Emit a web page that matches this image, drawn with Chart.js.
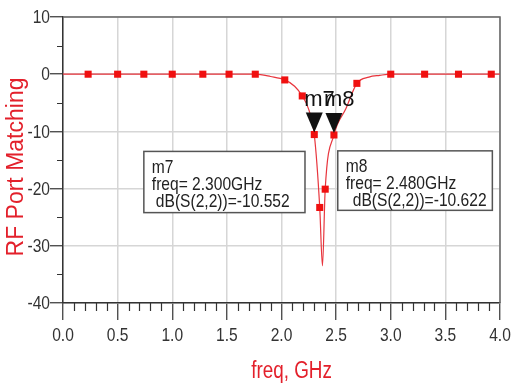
<!DOCTYPE html>
<html>
<head>
<meta charset="utf-8">
<script src="https://cdn.jsdelivr.net/npm/chart.js@4.4.1/dist/chart.umd.min.js"></script>
<style>
  html, body { margin: 0; padding: 0; background: #fff; }
  canvas { display: block; }
</style>
</head>
<body>
<canvas id="s22Chart" width="516" height="388"></canvas>
<script>
// dB(S(2,2)) trace, frequency in GHz
const lineFreq = [0.00, 0.23, 0.50, 0.74, 1.00, 1.28, 1.52, 1.76, 1.90, 2.03, 2.12, 2.19, 2.25, 2.30,
  2.35, 2.375, 2.40, 2.48, 2.59, 2.69, 2.80, 2.90, 3.00, 3.31, 3.62, 3.92, 4.00];
const lineDb = [0, 0, 0, 0, 0, 0, 0, 0, -0.4, -1.0, -2.1, -3.8, -6.2, -10.552,
  -23.3, -33.5, -20.1, -10.622, -6.0, -1.6, -0.5, -0.2, 0, 0, 0, 0, 0];

// square symbols sitting on the trace
const symFreq = [0.23, 0.50, 0.74, 1.00, 1.28, 1.52, 1.76, 2.03, 2.19, 2.30, 2.35, 2.40, 2.48, 2.69,
  3.00, 3.31, 3.62, 3.92];
const symDb = [0, 0, 0, 0, 0, 0, 0, -1.0, -3.8, -10.552, -23.3, -20.1, -10.622, -1.6, 0, 0, 0, 0];

// marker readouts
const markerNames = ['m7', 'm8'];
const markerFreq = [2.300, 2.480];
const markerDb = [-10.552, -10.622];

// axis ticks
const xTicks = [0, 0.5, 1.0, 1.5, 2.0, 2.5, 3.0, 3.5, 4.0];
const xTickLabels = ['0.0', '0.5', '1.0', '1.5', '2.0', '2.5', '3.0', '3.5', '4.0'];
const yTicks = [-40, -30, -20, -10, 0, 10];
const yTickLabels = ['-40', '-30', '-20', '-10', '0', '10'];

// readout panels, placed in data units (left, top, right, bottom) + indent of the dB line
const panels = [
  { x0: 0.74, y0: -13.5, x1: 2.215, y1: -24.2, indent: 4 },
  { x0: 2.515, y0: -13.4, x1: 3.93, y1: -23.8, indent: 7 }
];

const SANS = '"Liberation Sans", Arial, sans-serif';
const RED = '#e3202b';
const INK = '#333';

// no narrow face installed, so squeeze the regular one
function condensed(ctx, text, x, y, size, align, baseline, color) {
  ctx.save();
  ctx.font = size + 'px ' + SANS;
  ctx.fillStyle = color;
  ctx.textAlign = align;
  ctx.textBaseline = baseline;
  ctx.translate(x, y);
  ctx.scale(0.82, 1);
  ctx.fillText(text, 0, 0);
  ctx.restore();
}

const decorations = {
  id: 'decorations',
  beforeDatasetsDraw(chart) {
    const { ctx, chartArea: a, scales: { x, y } } = chart;
    ctx.save();
    ctx.strokeStyle = INK;
    ctx.lineWidth = 1.2;
    ctx.beginPath();
    // minor ticks every 0.1 GHz / 5 dB
    for (let i = 1; i < 40; i++) {
      if (i % 5 === 0) continue;
      const px = Math.round(x.getPixelForValue(i / 10)) + 0.5;
      ctx.moveTo(px, a.bottom);
      ctx.lineTo(px, a.bottom + 8);
    }
    for (let v = -35; v < 10; v += 10) {
      const py = Math.round(y.getPixelForValue(v)) + 0.5;
      ctx.moveTo(a.left - 6, py);
      ctx.lineTo(a.left, py);
    }
    ctx.stroke();
    // top and right edges of the frame
    ctx.strokeStyle = '#666';
    ctx.lineWidth = 1.5;
    ctx.beginPath();
    ctx.moveTo(a.left, a.top);
    ctx.lineTo(a.right, a.top);
    ctx.lineTo(a.right, a.bottom);
    ctx.stroke();
    ctx.restore();
  },
  afterDatasetsDraw(chart) {
    const { ctx, scales: { x, y } } = chart;
    ctx.save();
    // marker arrows and names
    markerNames.forEach((name, i) => {
      const px = x.getPixelForValue(markerFreq[i]);
      const py = y.getPixelForValue(markerDb[i]);
      ctx.fillStyle = '#111';
      ctx.beginPath();
      ctx.moveTo(px, py - 2);
      ctx.lineTo(px - 8.5, py - 22);
      ctx.lineTo(px + 8.5, py - 22);
      ctx.closePath();
      ctx.fill();
      ctx.font = '22px ' + SANS;
      ctx.textAlign = 'left';
      ctx.textBaseline = 'alphabetic';
      ctx.fillText(name, px - 10, py - 29);
    });
    // readout panels
    panels.forEach((p, i) => {
      const l = x.getPixelForValue(p.x0), r = x.getPixelForValue(p.x1);
      const t = y.getPixelForValue(p.y0), b = y.getPixelForValue(p.y1);
      ctx.fillStyle = '#fff';
      ctx.fillRect(l, t, r - l, b - t);
      ctx.strokeStyle = '#555';
      ctx.lineWidth = 1.5;
      ctx.strokeRect(l, t, r - l, b - t);
      condensed(ctx, markerNames[i], l + 8, t + 16, 19, 'left', 'middle', '#222');
      condensed(ctx, 'freq= ' + markerFreq[i].toFixed(3) + 'GHz', l + 8, t + 33, 19, 'left', 'middle', '#222');
      condensed(ctx, 'dB(S(2,2))=' + markerDb[i].toFixed(3), l + 8 + p.indent, t + 50, 19, 'left', 'middle', '#222');
    });
    ctx.restore();
  },
  afterDraw(chart) {
    const { ctx, chartArea: a, scales: { x, y } } = chart;
    // tick labels
    xTicks.forEach((v, i) => {
      condensed(ctx, xTickLabels[i], x.getPixelForValue(v), a.bottom + 38, 19, 'center', 'alphabetic', INK);
    });
    yTicks.forEach((v, i) => {
      condensed(ctx, yTickLabels[i], a.left - 13, y.getPixelForValue(v) + 1, 19, 'right', 'middle', INK);
    });
    // axis titles
    condensed(ctx, 'freq, GHz', (a.left + a.right) / 2 + 10, 372, 23, 'center', 'middle', RED);
    ctx.save();
    ctx.fillStyle = RED;
    ctx.textAlign = 'center';
    ctx.textBaseline = 'middle';
    ctx.translate(17, (a.top + a.bottom) / 2 + 7);
    ctx.rotate(-Math.PI / 2);
    ctx.font = '23px ' + SANS;
    ctx.fillText('RF Port Matching', 0, 0);
    ctx.restore();
  }
};

new Chart(document.getElementById('s22Chart'), {
  type: 'line',
  data: {
    datasets: [
      {
        label: 'dB(S(2,2))',
        data: lineFreq.map((f, i) => ({ x: f, y: lineDb[i] })),
        borderColor: '#e8353d',
        borderWidth: 1.2,
        pointRadius: 0,
        cubicInterpolationMode: 'monotone',
        order: 2
      },
      {
        label: 'samples',
        data: symFreq.map((f, i) => ({ x: f, y: symDb[i] })),
        showLine: false,
        pointStyle: 'rect',
        pointRadius: 5,
        pointBackgroundColor: '#f01010',
        pointBorderWidth: 0,
        order: 1
      }
    ]
  },
  options: {
    responsive: false,
    animation: false,
    devicePixelRatio: 1,
    layout: { padding: { left: 0, top: 17, right: 16, bottom: 0 } },
    plugins: { legend: { display: false }, tooltip: { enabled: false } },
    scales: {
      x: {
        type: 'linear',
        min: 0,
        max: 4,
        afterBuildTicks: s => { s.ticks = xTicks.map(v => ({ value: v })); },
        afterFit: s => { s.height = 85; },
        grid: { color: '#d6d6d6', lineWidth: 1.5, tickLength: 17, tickColor: INK, tickWidth: 1.2 },
        border: { color: INK, width: 1.5 },
        ticks: { display: false }
      },
      y: {
        min: -40,
        max: 10,
        afterBuildTicks: s => { s.ticks = yTicks.map(v => ({ value: v })); },
        afterFit: s => { s.width = 63; },
        grid: { color: '#d6d6d6', lineWidth: 1.5, tickLength: 13, tickColor: INK, tickWidth: 1.2 },
        border: { color: INK, width: 1.5 },
        ticks: { display: false }
      }
    }
  },
  plugins: [decorations]
});
</script>
</body>
</html>
